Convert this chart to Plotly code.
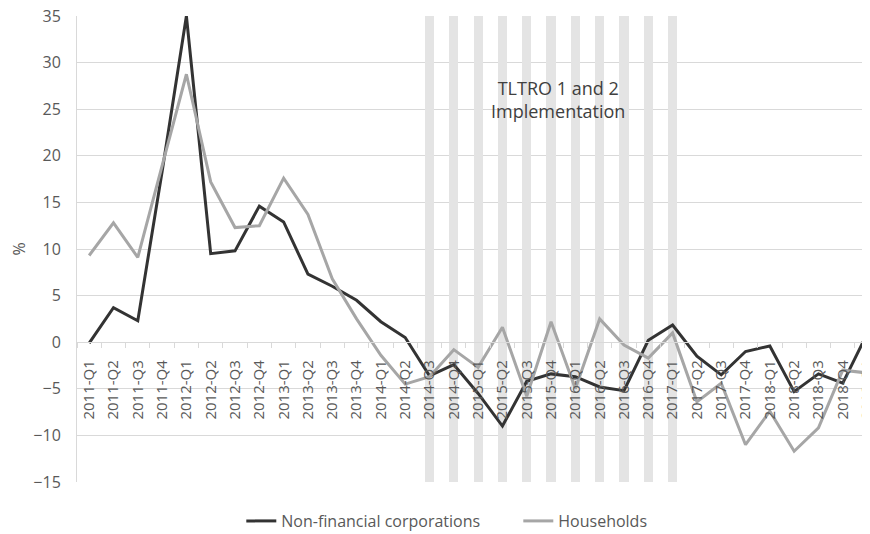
import plotly.graph_objects as go

quarters = [
    "2011-Q1", "2011-Q2", "2011-Q3", "2011-Q4",
    "2012-Q1", "2012-Q2", "2012-Q3", "2012-Q4",
    "2013-Q1", "2013-Q2", "2013-Q3", "2013-Q4",
    "2014-Q1", "2014-Q2", "2014-Q3", "2014-Q4",
    "2015-Q1", "2015-Q2", "2015-Q3", "2015-Q4",
    "2016-Q1", "2016-Q2", "2016-Q3", "2016-Q4",
    "2017-Q1", "2017-Q2", "2017-Q3", "2017-Q4",
    "2018-Q1", "2018-Q2", "2018-Q3", "2018-Q4",
    "2019-Q1",
]

nfc = [
    -0.1, 3.7, 2.3, 18.3,
    35.0, 9.5, 9.8, 14.6,
    12.9, 7.3, 6.0, 4.5,
    2.2, 0.5, -3.6, -2.4,
    -5.5, -9.0, -4.2, -3.4,
    -3.7, -4.8, -5.2, 0.2,
    1.85, -1.5, -3.5, -1.0,
    -0.4, -5.3, -3.4, -4.4,
    0.9,
]

households = [
    9.3, 12.8, 9.1, 18.9,
    28.75, 17.2, 12.3, 12.5,
    17.6, 13.7, 6.8, 2.5,
    -1.4, -4.5, -3.7, -0.8,
    -2.7, 1.6, -5.8, 2.2,
    -5.0, 2.5, -0.3, -1.7,
    1.0, -6.4, -4.4, -11.0,
    -7.4, -11.7, -9.2, -3.0,
    -3.3,
]

tltro_quarters = quarters[14:25]
tltro_upper = [35] * len(tltro_quarters)
tltro_lower = [-15] * len(tltro_quarters)

y_ticks = [-15, -10, -5, 0, 5, 10, 15, 20, 25, 30, 35]

FONT = "Open Sans"
AXIS_GREY = "#595959"
GRID = "#d9d9d9"
BAR_GREY = "#e4e4e4"

fig = go.Figure()

fig.add_trace(go.Bar(x=tltro_quarters, y=tltro_upper, width=0.38,
                     marker=dict(color=BAR_GREY, line=dict(width=0)),
                     showlegend=False, hoverinfo="skip"))
fig.add_trace(go.Bar(x=tltro_quarters, y=tltro_lower, width=0.38,
                     marker=dict(color=BAR_GREY, line=dict(width=0)),
                     showlegend=False, hoverinfo="skip"))

fig.add_trace(go.Scatter(x=quarters, y=nfc, mode="lines",
                         name="Non-financial corporations",
                         line=dict(color="#333333", width=3)))
fig.add_trace(go.Scatter(x=quarters, y=households, mode="lines",
                         name="Households",
                         line=dict(color="#a6a6a6", width=3)))

fig.add_annotation(x=19.27, y=26, xref="x", yref="y",
                   text="TLTRO 1 and 2<br>Implementation",
                   showarrow=False, align="center",
                   font=dict(family=FONT, size=18, color="#404040"))

fig.update_layout(
    width=862, height=526,
    margin=dict(l=69, r=0, t=8, b=52, autoexpand=False),
    plot_bgcolor="white", paper_bgcolor="white",
    barmode="relative", bargap=0,
    font=dict(family=FONT, color=AXIS_GREY),
    showlegend=True,
    legend=dict(orientation="h", xref="container", yref="container",
                x=0.592, y=0.0247, xanchor="center", yanchor="middle",
                entrywidth=232, entrywidthmode="pixels",
                font=dict(family=FONT, size=16, color=AXIS_GREY),
                bgcolor="rgba(0,0,0,0)"),
)

fig.update_xaxes(
    type="category", categoryorder="array", categoryarray=quarters,
    range=[-0.5, 32.12], automargin=False,
    anchor="free", position=0.3,
    tickangle=-90, tickfont=dict(family=FONT, size=15, color=AXIS_GREY),
    ticks="outside", tickson="boundaries", ticklen=5, tickcolor=GRID,
    ticklabelstandoff=11, ticklabeloverflow="allow",
    showline=True, linecolor=GRID, linewidth=1,
    showgrid=False, zeroline=False,
)

fig.update_yaxes(
    range=[-15, 35], tickvals=y_ticks, automargin=False,
    tickfont=dict(family=FONT, size=16, color=AXIS_GREY),
    showgrid=True, gridcolor=GRID, gridwidth=1,
    zeroline=False, showline=True, linecolor=GRID, linewidth=1,
    ticks="", ticklabelstandoff=12, ticklabeloverflow="allow",
    title=dict(text="%", standoff=4,
               font=dict(family=FONT, size=16, color=AXIS_GREY)),
)

fig.write_html("out.html")
